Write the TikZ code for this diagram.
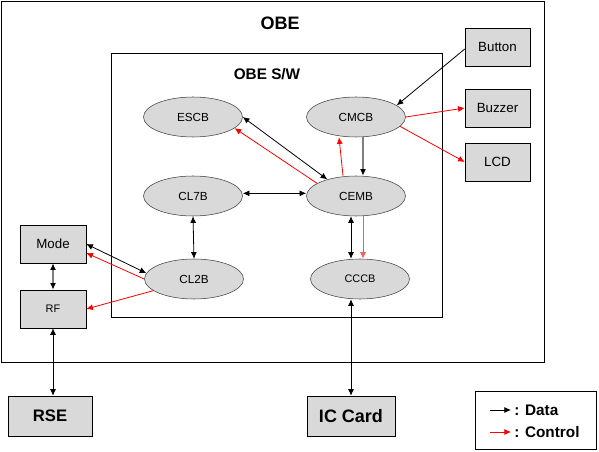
\documentclass[tikz,border=0pt]{standalone}
\usepackage{fontspec}
\setmainfont{Liberation Sans}
\usetikzlibrary{arrows.meta,calc,shapes.geometric}
\definecolor{boxgray}{HTML}{D9D9D9}
\definecolor{edgegray}{HTML}{404040}
\definecolor{thickgray}{HTML}{7F7F7F}
\definecolor{ctrlred}{HTML}{FF0000}
\definecolor{lightred}{HTML}{FF5A5A}
\tikzset{
  mytip/.tip={Latex[length=5pt,width=4.5pt]},
  blacktip/.tip={Latex[length=5pt,width=4.5pt,color=black]},
  blk/.style={draw=edgegray,fill=boxgray,ellipse,minimum width=74.25pt,minimum height=30pt,inner sep=0pt,font=\fontsize{8.8}{10}\selectfont},
  hwbox/.style={draw=black,fill=boxgray,rectangle,minimum width=48.75pt,minimum height=28.5pt,inner sep=0pt,font=\fontsize{10}{12}\selectfont},
  bigbox/.style={draw=black,fill=boxgray,rectangle,minimum height=30pt,inner sep=0pt,font=\bfseries\fontsize{12.5}{14}\selectfont},
  frame/.style={draw=black,line width=0.65pt},
  data/.style={draw=black,line width=0.6pt,mytip-mytip},
  data1/.style={draw=black,line width=0.6pt,-mytip},
  ctrl/.style={draw=ctrlred,line width=0.6pt,-mytip},
  gdata/.style={draw=thickgray,line width=1.4pt,-blacktip},
  gdata2/.style={draw=thickgray,line width=1.4pt,blacktip-blacktip},
}
\begin{document}
\begin{tikzpicture}[x=0.75pt,y=-0.75pt]
\useasboundingbox (0,0) rectangle (599,452);
% frames
\draw[frame] (1,1) rectangle (544,362);
\node[font=\bfseries\fontsize{13.5}{15}\selectfont] (obe) at (280,23) {OBE};
\draw[frame] (111,53) rectangle (442,317);
\node[font=\bfseries\fontsize{11.5}{13}\selectfont] (obesw) at (267,74) {OBE S/W};
% ellipses
\node[blk] (ESCB) at (193,117) {ESCB};
\node[blk] (CMCB) at (356,117) {CMCB};
\node[blk] (CL7B) at (193,196) {CL7B};
\node[blk] (CEMB) at (356,196) {CEMB};
\node[blk] (CL2B) at (194,279) {CL2B};
\node[blk,font=\fontsize{8.2}{10}\selectfont] (CCCB) at (360,279) {CCCB};
% hardware boxes
\node[hwbox] (Button) at (497.5,47) {Button};
\node[hwbox] (Buzzer) at (497.5,108) {Buzzer};
\node[hwbox] (LCD) at (497.5,162) {LCD};
\node[hwbox,minimum width=49.5pt] (Mode) at (53,244) {Mode};
\node[hwbox,minimum width=49.5pt,font=\fontsize{8.2}{10}\selectfont] (RF) at (53,309) {RF};
\node[bigbox,minimum width=63pt] (RSE) at (50,416) {RSE};
\node[bigbox,minimum width=66pt,font=\bfseries\fontsize{13.5}{15}\selectfont] (ICC) at (351,416) {IC Card};
% legend
\draw[frame] (475,391) rectangle (596,449);
\coordinate (ld0) at (490,410); \coordinate (ld1) at (511,410);
\coordinate (lc0) at (490,432); \coordinate (lc1) at (511,432);
\draw[data1] (ld0) -- (ld1);
\draw[ctrl] (lc0) -- (lc1);
\node[anchor=west,inner sep=0pt,font=\bfseries\fontsize{11.5}{13}\selectfont] (ldt) at (514,410) {: Data};
\node[anchor=west,inner sep=0pt,font=\bfseries\fontsize{11.5}{13}\selectfont] (lct) at (514,432) {: Control};
% connectors
\draw[data1] ([yshift=-1.5pt]Button.west) -- (CMCB.16);
\draw[ctrl] (CMCB.east) -- (Buzzer.west);
\draw[ctrl] (CMCB.348) -- (LCD.west);
\draw[gdata] ([xshift=5.25pt]CMCB.south) -- ([xshift=5.25pt]CEMB.north);
\draw[ctrl] ([xshift=-9.75pt]CEMB.north) -- ([xshift=-12.75pt]CMCB.south);
\draw[data] (ESCB.east) -- (CEMB.150);
\draw[ctrl] (CEMB.162) -- (ESCB.345);
\draw[data] ([yshift=2pt]CL7B.east) -- ([yshift=2pt]CEMB.west);
\draw[data] (CL7B.south) -- (CL2B.north);
\draw[data] ([xshift=-3.75pt]CEMB.south) -- ([xshift=-6.75pt]CCCB.north);
\draw[ctrl,draw=lightred] ([xshift=5.25pt]CEMB.south) -- ([xshift=2.25pt]CCCB.north);
\draw[data] (Mode.east) -- (CL2B.173);
\draw[ctrl] (CL2B.west) -- ([yshift=-6.75pt]Mode.east);
\draw[ctrl] (CL2B.196) -- (RF.east);
\draw[gdata2] (Mode.south) -- (RF.north);
\draw[data] (RF.south) -- (RF.south |- RSE.north);
\draw[data] (ICC.north |- CCCB.south) -- (ICC.north);
\end{tikzpicture}
\end{document}
